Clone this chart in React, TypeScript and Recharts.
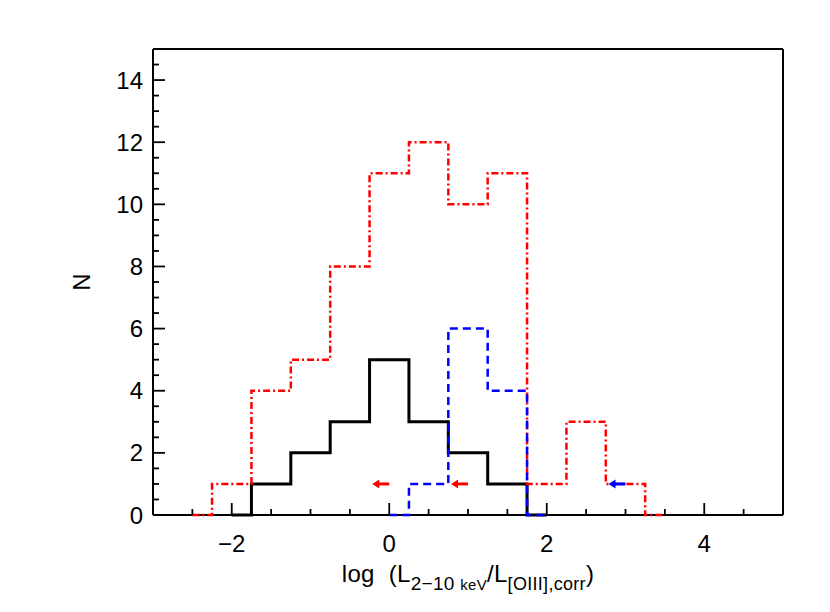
import React from "react";
import { ComposedChart, Line, Scatter, XAxis, YAxis } from "recharts";

// histogram bin centres and counts (bin width 0.5)
const blackCenters = [-2, -1.5, -1, -0.5, 0, 0.5, 1, 1.5, 2];
const blackCounts = [0, 1, 2, 3, 5, 3, 2, 1, 0];

const redCenters = [-2.5, -2, -1.5, -1, -0.5, 0, 0.5, 1, 1.5, 2, 2.5, 3, 3.5];
const redCounts = [0, 1, 4, 5, 8, 11, 12, 10, 11, 1, 3, 1, 0];

const blueCenters = [0, 0.5, 1, 1.5, 2];
const blueCounts = [0, 1, 6, 4, 0];

// upper limits (arrows)
const redLimitX = [0, 1];
const redLimitN = [1, 1];
const blueLimitX = [3];
const blueLimitN = [1];

const xTicks = [-2.5, -2, -1.5, -1, -0.5, 0, 0.5, 1, 1.5, 2, 2.5, 3, 3.5, 4, 4.5];
const xMajor = [-2, 0, 2, 4];
const yTicks = [0, 0.5, 1, 1.5, 2, 2.5, 3, 3.5, 4, 4.5, 5, 5.5, 6, 6.5, 7, 7.5, 8, 8.5, 9, 9.5, 10, 10.5, 11, 11.5, 12, 12.5, 13, 13.5, 14, 14.5];
const yMajor = [0, 2, 4, 6, 8, 10, 12, 14];

const toPts = (xs: number[], ys: number[]) => xs.map((x, i) => ({ x, y: ys[i] }));

const blackData = toPts(blackCenters, blackCounts);
const redData = toPts(redCenters, redCounts);
const blueData = toPts(blueCenters, blueCounts);
const redLimits = toPts(redLimitX, redLimitN);
const blueLimits = toPts(blueLimitX, blueLimitN);

const FONT = "Liberation Sans, Arial, sans-serif";
const fmt = (v: number) => (v < 0 ? "\u2212" + Math.abs(v) : String(v));

function BottomTick({ x, y, payload }: any) {
  const v = payload.value;
  const major = xMajor.includes(v);
  return (
    <g>
      <line x1={x} x2={x} y1={y} y2={y - (major ? 12 : 6)} stroke="#000" strokeWidth={1.8} />
      {major && (
        <text x={x} y={y + 37} textAnchor="middle" fontSize={24} fontFamily={FONT} fill="#000">
          {fmt(v)}
        </text>
      )}
    </g>
  );
}

function TopTick({ x, y, payload }: any) {
  const major = xMajor.includes(payload.value);
  return <line x1={x} x2={x} y1={y} y2={y + (major ? 12 : 6)} stroke="#000" strokeWidth={1.8} />;
}

function LeftTick({ x, y, payload }: any) {
  const v = payload.value;
  const major = yMajor.includes(v);
  return (
    <g>
      {v > 0 && <line x1={x} x2={x + (major ? 12 : 6)} y1={y} y2={y} stroke="#000" strokeWidth={1.8} />}
      {major && (
        <text x={x - 10} y={y} textAnchor="end" dominantBaseline="central" fontSize={24} fontFamily={FONT} fill="#000">
          {v}
        </text>
      )}
    </g>
  );
}

function RightTick({ x, y, payload }: any) {
  const v = payload.value;
  const major = yMajor.includes(v);
  if (v === 0) return <g />;
  return <line x1={x} x2={x - (major ? 12 : 6)} y1={y} y2={y} stroke="#000" strokeWidth={1.8} />;
}

function arrowShape(color: string) {
  return (props: any) => {
    const { cx, cy } = props;
    return (
      <g>
        <line x1={cx} x2={cx - 11} y1={cy} y2={cy} stroke={color} strokeWidth={3} />
        <polygon points={`${cx - 17},${cy} ${cx - 10},${cy - 4.5} ${cx - 10},${cy + 4.5}`} fill={color} />
      </g>
    );
  };
}

function XLabel({ viewBox }: any) {
  const cx = viewBox.x + viewBox.width / 2;
  return (
    <text x={cx} y={582} textAnchor="middle" fontFamily={FONT} fontSize={24} letterSpacing={0.3} fill="#000">
      <tspan>{"log\u00a0\u00a0(L"}</tspan>
      <tspan fontSize={19} dy={8}>{"2\u221210\u00a0"}</tspan>
      <tspan fontSize={15}>keV</tspan>
      <tspan dy={-8}>/L</tspan>
      <tspan fontSize={18} dy={8}>[OIII],corr</tspan>
      <tspan dy={-8}>)</tspan>
    </text>
  );
}

function YLabel({ viewBox }: any) {
  const cy = viewBox.y + viewBox.height / 2;
  const x = 90;
  return (
    <text x={x} y={cy} transform={`rotate(-90 ${x} ${cy})`} textAnchor="middle" fontFamily={FONT} fontSize={24} fill="#000">
      N
    </text>
  );
}

const axisLine = { stroke: "#000", strokeWidth: 2 };

export default function App() {
  return (
    <div style={{ position: "absolute", left: 0, top: 0, width: 830, height: 612, background: "#fff" }}>
      <ComposedChart width={830} height={612} margin={{ top: 19, right: 17, bottom: 37, left: 93 }}>
        <XAxis
          dataKey="x"
          type="number"
          domain={[-3, 5]}
          ticks={xTicks}
          interval={0}
          height={60}
          tickSize={0}
          tickMargin={0}
          tickLine={false}
          tick={<BottomTick />}
          axisLine={axisLine}
          label={{ content: <XLabel /> }}
        />
        <XAxis
          xAxisId="top"
          orientation="top"
          type="number"
          domain={[-3, 5]}
          ticks={xTicks}
          interval={0}
          height={30}
          tickSize={0}
          tickMargin={0}
          tickLine={false}
          tick={<TopTick />}
          axisLine={axisLine}
        />
        <YAxis
          dataKey="y"
          type="number"
          domain={[0, 15]}
          ticks={yTicks}
          interval={0}
          width={60}
          tickSize={0}
          tickMargin={0}
          tickLine={false}
          tick={<LeftTick />}
          axisLine={axisLine}
          label={{ content: <YLabel /> }}
        />
        <YAxis
          yAxisId="right"
          orientation="right"
          type="number"
          domain={[0, 15]}
          ticks={yTicks}
          interval={0}
          width={30}
          tickSize={0}
          tickMargin={0}
          tickLine={false}
          tick={<RightTick />}
          axisLine={axisLine}
        />
        <Line
          data={blackData}
          dataKey="y"
          type="step"
          stroke="#000"
          strokeWidth={3}
          dot={false}
          activeDot={false}
          isAnimationActive={false}
          zIndex={700}
        />
        <Line
          data={redData}
          dataKey="y"
          type="step"
          stroke="#ff0000"
          strokeWidth={2.5}
          strokeDasharray="7 3 2 3"
          dot={false}
          activeDot={false}
          isAnimationActive={false}
          zIndex={710}
        />
        <Line
          data={blueData}
          dataKey="y"
          type="step"
          stroke="#0000ff"
          strokeWidth={2.5}
          strokeDasharray="8 5"
          dot={false}
          activeDot={false}
          isAnimationActive={false}
          zIndex={720}
        />
        <Scatter data={redLimits} dataKey="y" shape={arrowShape("#ff0000")} isAnimationActive={false} zIndex={730} />
        <Scatter data={blueLimits} dataKey="y" shape={arrowShape("#0000ff")} isAnimationActive={false} zIndex={730} />
      </ComposedChart>
    </div>
  );
}
